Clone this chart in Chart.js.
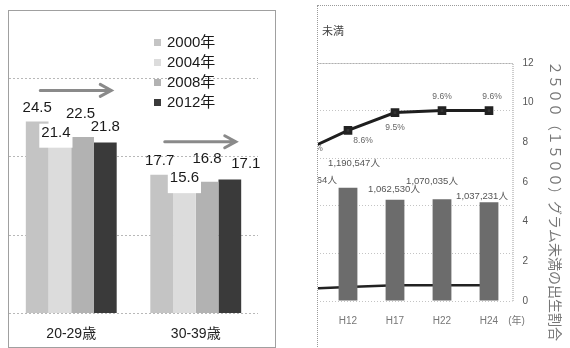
<!DOCTYPE html>
<html>
<head>
<meta charset="utf-8">
<script src="https://cdn.jsdelivr.net/npm/chart.js@4.4.0/dist/chart.umd.min.js"></script>
<style>
  body { margin: 0; width: 570px; height: 348px; background: #fff; position: relative; overflow: hidden; }
  #ageBox { position: absolute; left: 8px; top: 10px; width: 266px; height: 336px; border: 1px solid #a0a0a0; }
  #ageChart { position: absolute; left: 0; top: 0; }
  #birthBox { position: absolute; left: 317px; top: 5px; width: 253px; height: 343px;
    border-top: 1px dotted #9a9a9a; border-left: 1px dotted #9a9a9a; overflow: hidden; }
  #birthChart { position: absolute; left: -48px; top: -6px; }
</style>
</head>
<body>
<div id="ageBox"><canvas id="ageChart" width="266" height="349"></canvas></div>
<div id="birthBox"><canvas id="birthChart" width="300" height="364"></canvas></div>
<script>
document.addEventListener("DOMContentLoaded", function () {
  const family = "'Liberation Sans', 'Noto Sans CJK JP', sans-serif";

  // left chart data ---------------------------------------------------------
  const ageGroups = ["20-29歳", "30-39歳"];
  const surveyYears = ["2000年", "2004年", "2008年", "2012年"];
  const rate2000 = [24.5, 17.7];
  const rate2004 = [21.4, 15.6];
  const rate2008 = [22.5, 16.8];
  const rate2012 = [21.8, 17.1];

  // right chart data --------------------------------------------------------
  const eras = ["H7", "H12", "H17", "H22", "H24"];
  const births = [1187064, 1190547, 1062530, 1070035, 1037231];
  const lowWeightPct = [7.5, 8.6, 9.5, 9.6, 9.6];
  const veryLowWeightPct = [0.6, 0.7, 0.8, 0.8, 0.8];

  // styling
  const yearColors = ["#c4c4c4", "#dcdcdc", "#b2b2b2", "#3a3a3a"];
  const labelLift = [14, 13, 23, 16]; // value label height above each series' bars
  const labelShiftX = [[0, -2], [-4, 0], [-2, 0], [0, 16]];
  const birthLabelShift = [[10, -8], [6, -24], [-1, -10], [-10, -18], [-7, -6]];
  const pctLabelShift = [[12, -4], [15, 10], [0, 15], [0, -14], [3, -14]];

  function drawArrow(ctx, x0, x1, y) {
    ctx.save();
    ctx.strokeStyle = "#8a8a8a";
    ctx.lineWidth = 3;
    ctx.lineCap = "round";
    ctx.beginPath();
    ctx.moveTo(x0, y);
    ctx.lineTo(x1 - 2, y);
    ctx.moveTo(x1 - 11, y - 6);
    ctx.lineTo(x1, y);
    ctx.lineTo(x1 - 11, y + 6);
    ctx.stroke();
    ctx.restore();
  }

  // value labels, trend arrows and the legend of the left chart
  const ageExtras = {
    id: "ageExtras",
    afterDatasetsDraw(chart) {
      const ctx = chart.ctx;
      ctx.save();
      ctx.font = "15px " + family;
      ctx.textAlign = "center";
      ctx.textBaseline = "middle";
      const tops = [];
      chart.data.datasets.forEach((ds, i) => {
        chart.getDatasetMeta(i).data.forEach((bar, j) => {
          const text = ds.data[j].toFixed(1);
          const x = bar.x + labelShiftX[i][j];
          const y = bar.y - labelLift[i];
          if (i === 1) {
            const w = ctx.measureText(text).width + 4;
            ctx.fillStyle = "#fff";
            ctx.fillRect(x - w / 2, y - 9, w, bar.y - y + 11);
          }
          ctx.fillStyle = "#1a1a1a";
          ctx.fillText(text, x, y);
          tops[j] = Math.min(tops[j] === undefined ? Infinity : tops[j], y);
        });
      });

      const xs = chart.scales.x;
      tops.forEach((t, j) => {
        const cx = xs.getPixelForValue(j);
        drawArrow(ctx, cx - 31, cx + 40, t - 17);
      });

      ctx.textAlign = "left";
      chart.data.datasets.forEach((ds, i) => {
        const y = 31 + i * 20;
        ctx.fillStyle = ds.backgroundColor;
        ctx.fillRect(145, y - 3, 7, 7);
        ctx.fillStyle = "#1a1a1a";
        ctx.fillText(ds.label, 158, y + 1);
      });
      ctx.restore();
    },
  };

  const ageSeries = [rate2000, rate2004, rate2008, rate2012];
  new Chart(document.getElementById("ageChart").getContext("2d"), {
    type: "bar",
    data: {
      labels: ageGroups,
      datasets: ageSeries.map((values, i) => ({
        label: surveyYears[i],
        data: values,
        backgroundColor: yearColors[i],
        barPercentage: 1,
        categoryPercentage: 0.73,
      })),
    },
    options: {
      responsive: false,
      animation: false,
      layout: { padding: { left: 0, right: 17, top: 4.6, bottom: 4.6 } },
      plugins: { legend: { display: false }, tooltip: { enabled: false } },
      scales: {
        x: {
          grid: { display: false, drawTicks: false },
          border: { display: false },
          ticks: { padding: 12.6, color: "#222", font: { size: 14, family: family } },
        },
        y: {
          min: 0,
          max: 38,
          ticks: { display: false, stepSize: 10 },
          grid: {
            drawTicks: false,
            color: (c) => (c.tick && c.tick.value % 10 === 0 ? "#b8b8b8" : "rgba(0,0,0,0)"),
          },
          border: { display: false, dash: [2, 2] },
        },
      },
    },
    plugins: [ageExtras],
  });

  // labels, frame and titles of the right chart
  const birthExtras = {
    id: "birthExtras",
    beforeDatasetsDraw(chart) {
      const { ctx, chartArea: a } = chart;
      ctx.save();
      ctx.strokeStyle = "#9a9a9a";
      ctx.lineWidth = 1;
      ctx.setLineDash([1, 1]);
      ctx.beginPath();
      ctx.moveTo(a.left, a.top + 0.5);
      ctx.lineTo(a.right + 0.5, a.top + 0.5);
      ctx.lineTo(a.right + 0.5, a.bottom);
      ctx.stroke();
      ctx.restore();
    },
    afterDatasetsDraw(chart) {
      const { ctx, chartArea: a } = chart;
      ctx.save();
      ctx.textAlign = "center";
      ctx.textBaseline = "middle";

      ctx.font = "9.5px " + family;
      ctx.fillStyle = "#555";
      chart.getDatasetMeta(1).data.forEach((bar, j) => {
        const text = births[j].toLocaleString("en-US") + "人";
        ctx.fillText(text, bar.x + birthLabelShift[j][0], bar.y + birthLabelShift[j][1]);
      });

      ctx.font = "8.5px " + family;
      ctx.fillStyle = "#666";
      chart.getDatasetMeta(2).data.forEach((pt, j) => {
        const text = lowWeightPct[j].toFixed(1) + "%";
        ctx.fillText(text, pt.x + pctLabelShift[j][0], pt.y + pctLabelShift[j][1]);
      });

      ctx.font = "10px " + family;
      ctx.fillStyle = "#777";
      ctx.fillText("(年)", a.right + 4, a.bottom + 20);

      ctx.font = "11px " + family;
      ctx.fillStyle = "#444";
      ctx.textAlign = "left";
      ctx.fillText("未満", 52, 32);

      // vertical title beside the right axis
      ctx.save();
      ctx.translate(285, 201);
      ctx.rotate(Math.PI / 2);
      ctx.textAlign = "center";
      ctx.font = "14px 'Noto Sans CJK JP', sans-serif";
      ctx.fillStyle = "#777";
      ctx.fillText("２５００（１５００）グラム未満の出生割合", 0, 0);
      ctx.restore();

      ctx.restore();
    },
  };

  new Chart(document.getElementById("birthChart").getContext("2d"), {
    type: "bar",
    data: {
      labels: eras,
      datasets: [
        {
          type: "line",
          label: "1500g未満",
          data: veryLowWeightPct,
          yAxisID: "y1",
          borderColor: "#222",
          borderWidth: 2.5,
          pointRadius: 0,
          order: 3,
        },
        {
          type: "bar",
          label: "出生数",
          data: births,
          yAxisID: "y",
          backgroundColor: "#6c6c6c",
          barPercentage: 0.4,
          categoryPercentage: 1,
          order: 2,
        },
        {
          type: "line",
          label: "2500g未満",
          data: lowWeightPct,
          yAxisID: "y1",
          borderColor: "#1e1e1e",
          borderWidth: 3,
          pointStyle: "rect",
          pointRadius: 4,
          pointBackgroundColor: "#333",
          pointBorderColor: "#222",
          order: 1,
        },
      ],
    },
    options: {
      responsive: false,
      animation: false,
      layout: { padding: { left: 7.5, right: 0, top: 63, bottom: 23 } },
      plugins: { legend: { display: false }, tooltip: { enabled: false } },
      scales: {
        x: {
          grid: { display: false, drawTicks: false },
          border: { display: false },
          ticks: { padding: 14, color: "#777", font: { size: 10, family: family } },
        },
        y: {
          position: "left",
          min: 0,
          max: 2500000,
          ticks: { display: false, stepSize: 500000 },
          grid: { drawTicks: false, color: "#c4c4c4" },
          border: { display: false, dash: [1, 2] },
        },
        y1: {
          position: "right",
          min: 0,
          max: 12,
          ticks: { stepSize: 2, padding: 10, color: "#555", font: { size: 10, family: family } },
          grid: { drawOnChartArea: false, drawTicks: false },
          border: { display: false },
          afterFit: (s) => { s.width = 57.5; },
        },
      },
    },
    plugins: [birthExtras],
  });
});
</script>
</body>
</html>
